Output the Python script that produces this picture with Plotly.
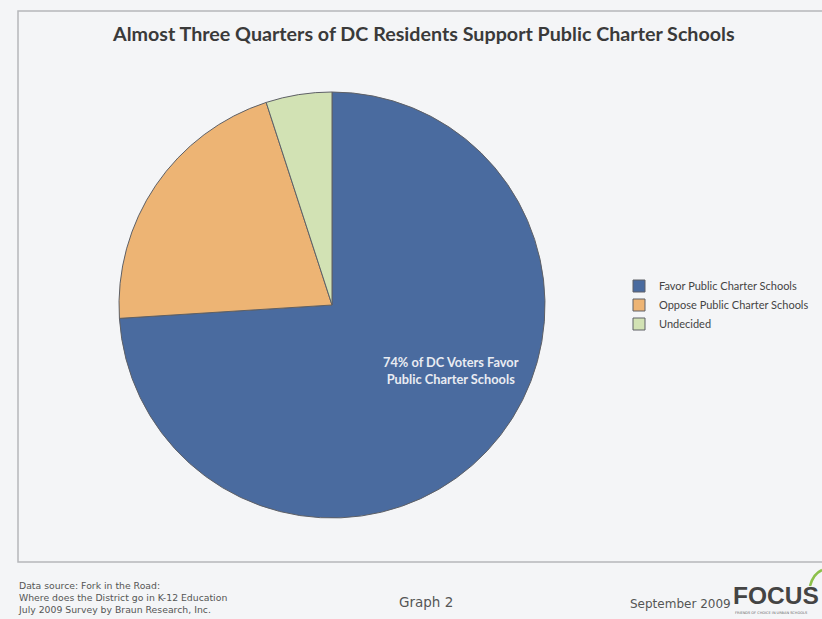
import plotly.graph_objects as go

# Survey result shares (percent)
categories = ["Favor Public Charter Schools", "Oppose Public Charter Schools", "Undecided"]
shares = [74, 21, 5]
slice_colors = ["#4A6B9F", "#EDB474", "#D2E2B4"]

title_text = "Almost Three Quarters of DC Residents Support Public Charter Schools"
callout_text = "74% of DC Voters Favor<br>Public Charter Schools"
source_lines = [
    "Data source: Fork in the Road:",
    "Where does the District go in K-12 Education",
    "July 2009 Survey by Braun Research, Inc.",
]

W, H = 822, 619
bg = "#F4F5F7"

fig = go.Figure(
    go.Pie(
        labels=categories,
        values=shares,
        sort=False,
        direction="clockwise",
        rotation=0,
        textinfo="none",
        hoverinfo="label+percent",
        marker=dict(colors=slice_colors, line=dict(color="#5E6066", width=1)),
        domain=dict(x=[(332 - 213) / W, (332 + 213) / W], y=[1 - 518 / H, 1 - 92 / H]),
    )
)

annotations = [
    dict(text=title_text, x=423 / W, y=1 - 34 / H, xref="paper", yref="paper",
         showarrow=False, xanchor="center", yanchor="middle",
         font=dict(family="Lato", size=19.7, color="#3A3A3A", weight="bold")),
    dict(text=callout_text, x=451 / W, y=1 - 370 / H, xref="paper", yref="paper",
         showarrow=False, xanchor="center", yanchor="middle", align="center",
         font=dict(family="Lato", size=12.8, color="#E9ECF2", weight="bold")),
    dict(text="<br>".join(source_lines), x=16 / W, y=1 - 597 / H, xref="paper", yref="paper",
         showarrow=False, xanchor="left", yanchor="middle", align="left",
         font=dict(family="DejaVu Sans", size=9.3, color="#555555")),
    dict(text="Graph 2", x=426 / W, y=1 - 602 / H, xref="paper", yref="paper",
         showarrow=False, xanchor="center", yanchor="middle",
         font=dict(family="DejaVu Sans", size=13.5, color="#555555")),
    dict(text="September 2009", x=733 / W, y=1 - 604 / H, xref="paper", yref="paper",
         showarrow=False, xanchor="right", yanchor="middle",
         font=dict(family="DejaVu Sans", size=12, color="#555555")),
    dict(text="FOCUS", x=731 / W, y=1 - 595 / H, xref="paper", yref="paper",
         showarrow=False, xanchor="left", yanchor="middle",
         font=dict(family="Liberation Sans", size=24.5, color="#444444", weight="bold")),
    dict(text="FRIENDS OF CHOICE IN URBAN SCHOOLS", x=733 / W, y=1 - 613 / H, xref="paper", yref="paper",
         showarrow=False, xanchor="left", yanchor="middle",
         font=dict(family="DejaVu Sans", size=3.5, color="#666666")),
]

shapes = [
    # page frame
    dict(type="rect", xref="paper", yref="paper", x0=18 / W, x1=1.02, y0=1 - 562 / H, y1=1 - 11 / H,
         line=dict(color="#B5B7BB", width=1.5), fillcolor="rgba(0,0,0,0)", layer="below"),
    # green leaf mark over the logo
    dict(type="path", xref="paper", yref="paper",
         path=f"M {810 / W} {1 - 586 / H} Q {813 / W} {1 - 574 / H} {822 / W} {1 - 570 / H}",
         line=dict(color="#8CC04B", width=2.5)),
]

fig.update_layout(
    width=W, height=H,
    margin=dict(l=0, r=0, t=0, b=0, autoexpand=False),
    paper_bgcolor=bg, plot_bgcolor=bg,
    showlegend=True,
    legend=dict(x=619 / W, y=1 - 305 / H, xanchor="left", yanchor="middle",
                font=dict(family="Lato", size=11, color="#444444"),
                bgcolor="rgba(0,0,0,0)", tracegroupgap=0),
    annotations=annotations,
    shapes=shapes,
)

fig.write_html("out.html")
